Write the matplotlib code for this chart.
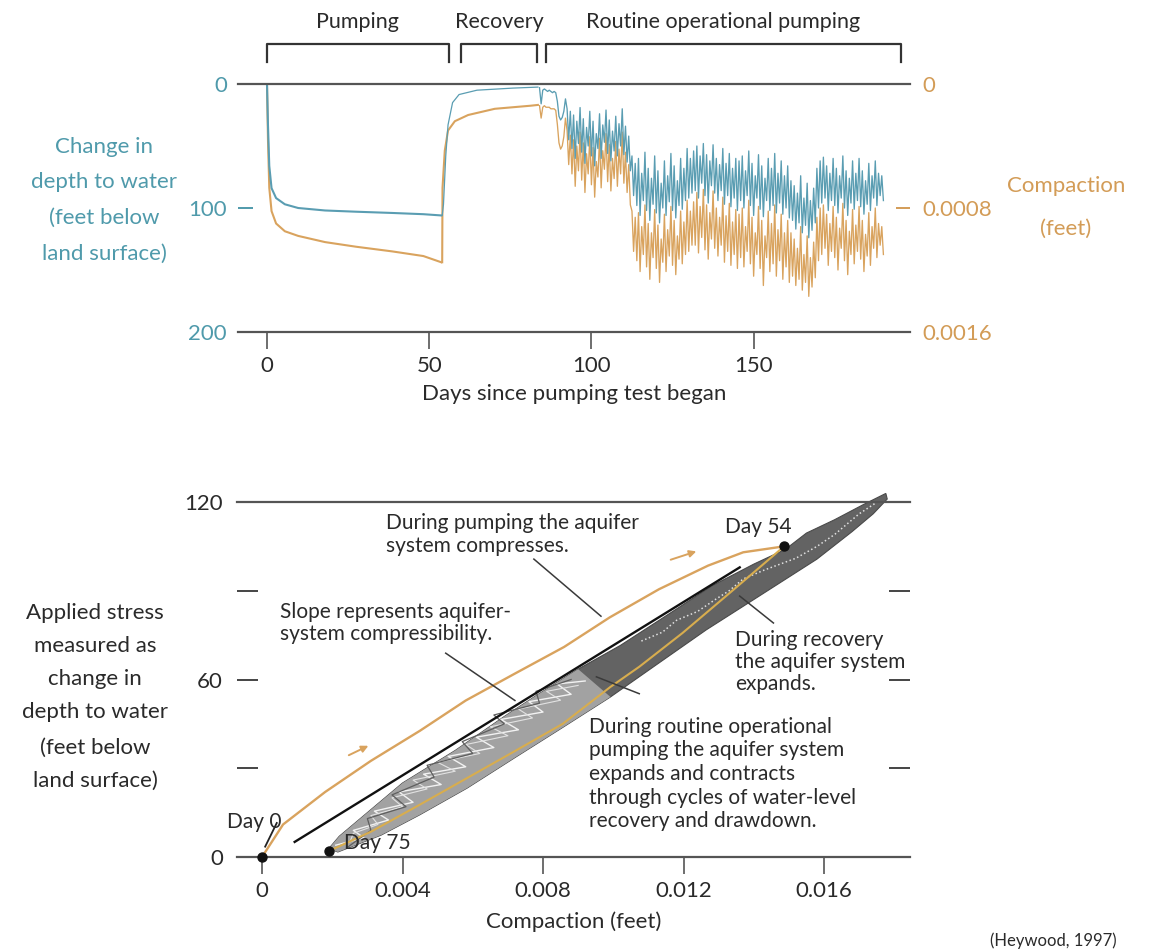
import numpy as np
import matplotlib
matplotlib.use("Agg")
import matplotlib.pyplot as plt
from matplotlib.transforms import blended_transform_factory

plt.rcParams['font.family'] = ['Lato', 'DejaVu Sans']

# ---------------- data: top panel (time series) ----------------
pump_days = [0, 0.3, 0.7, 1.4, 2.8, 5.5, 9.6, 17.9, 27.5, 38.6, 48.2, 53.7]
pump_depth_ft = [0, 33, 66, 84, 92, 97, 100, 102, 103, 104, 105, 106]
pump_comp_e5 = [0, 36, 67, 82, 90, 95, 98, 102, 105, 108, 111, 115]

recov_depth_days = [54.0, 54.4, 55.1, 55.8, 57.2, 59.2, 64.7, 75.8, 83.5]
recov_depth_ft = [106, 97, 58, 33, 15, 8.5, 5, 3.3, 2.5]
recov_comp_days = [54.0, 54.1, 54.8, 55.8, 57.9, 62.0, 70.2, 81.3, 83.5]
recov_comp_e5 = [115, 67, 43, 30, 24, 20, 16, 14, 13.5]

routine_start_day = 84.0
routine_step_day = 0.5
routine_depth_ft = [
    3, 16, 5, 4, 5, 6, 5, 6, 7, 6, 7, 14, 26, 29, 27, 22, 12,
    20, 45, 22, 52, 25, 60, 30, 48, 19, 55, 28, 64, 35, 50, 22, 58, 30, 66, 40, 52,
    24, 60, 33, 47, 21, 56, 29, 62, 38, 54, 26, 58, 32, 50, 20, 57, 34, 63, 42, 70,
    58, 90, 64, 98, 60, 106, 72, 94, 55, 102, 68, 110, 76, 97, 58, 104, 70, 112, 80,
    100, 62, 106, 74, 95, 56, 102, 66, 108, 78, 98, 60, 101, 68, 94, 52, 92, 60, 88,
    54, 86, 50, 92, 58, 80, 48, 90, 57, 96, 62, 82, 49, 88, 60, 94, 65, 86, 52, 97,
    64, 90, 56, 99, 68, 92, 60, 102,
    62, 94, 58, 100, 70, 90, 54, 98, 64, 106, 74, 92, 57, 101, 66, 107, 76, 94, 60, 102,
    68, 98, 56, 104, 72, 96, 62, 105, 74, 100, 66, 108,
    78, 110, 82, 117, 88, 112, 74, 120, 92, 114, 80, 124, 94, 118, 84, 112,
    68, 100, 62, 96, 59, 92, 66, 102, 72, 94, 60, 98, 68, 104, 74, 92, 58, 100, 70, 106,
    76, 96, 62, 101, 72, 94, 60, 99, 70, 105, 78, 97, 64, 102, 74, 92, 62, 98, 72, 90,
    74, 94,
]
routine_comp_e5 = [
    14, 22, 15, 14, 15, 15, 15, 16, 16, 16, 17, 26, 38, 42, 40, 34, 22,
    30, 52, 33, 58, 36, 66, 40, 56, 31, 62, 38, 70, 45, 58, 34, 65, 41, 73, 50, 60,
    35, 67, 43, 55, 32, 63, 39, 69, 48, 61, 37, 66, 42, 58, 31, 64, 44, 70, 52, 78,
    82, 108, 86, 114, 83, 121, 92, 110, 78, 118, 90, 126, 96, 112, 81, 119, 91, 128, 100,
    115, 84, 121, 94, 111, 79, 117, 88, 123, 98, 113, 82, 116, 89, 110, 75, 108, 82, 104,
    76, 104, 70, 109, 79, 99, 68, 107, 78, 113, 83, 100, 69, 106, 80, 111, 86, 104, 73, 115,
    85, 108, 77, 117, 89, 110, 81, 119,
    84, 112, 80, 118, 92, 108, 75, 116, 86, 124, 96, 110, 79, 119, 88, 130, 98, 112, 82, 121,
    90, 116, 78, 124, 94, 114, 84, 126, 96, 118, 88, 128,
    96, 124, 100, 130, 106, 126, 92, 133, 110, 128, 98, 137, 112, 131, 102, 125,
    86, 114, 80, 110, 78, 106, 84, 117, 90, 108, 79, 112, 86, 120, 93, 106, 77, 114, 88, 123,
    95, 110, 81, 116, 91, 108, 79, 113, 88, 121, 97, 111, 83, 117, 92, 106, 80, 112, 90, 104,
    92, 110,
]

phase_names = ["Pumping", "Recovery", "Routine operational pumping"]
phase_start_day = [0, 59.8, 86]
phase_end_day = [56, 83.2, 195.4]

top_xticks = [0, 50, 100, 150]
depth_ticks = [0, 100, 200]
comp_ticks = [0, 0.0008, 0.0016]
comp_tick_labels = ["0", "0.0008", "0.0016"]

# ---------------- data: bottom panel (stress vs compaction) ----------------
pumping_path_comp = [0.0, 0.0006, 0.0018, 0.0031, 0.0045, 0.0058, 0.0072, 0.0086,
                     0.0099, 0.0113, 0.0127, 0.0137, 0.01486]
pumping_path_stress = [0, 11, 22, 32.5, 42.7, 52.9, 62, 71, 81, 90.5, 98.5, 103, 105]

recovery_path_comp = [0.01486, 0.01456, 0.01333, 0.01197, 0.01074, 0.00992, 0.00856,
                      0.0072, 0.00584, 0.00448, 0.00311, 0.0019]
recovery_path_stress = [105, 101.9, 89.4, 75.7, 64.3, 57.5, 45, 35.8, 26.7, 17.6, 8.6, 2]

band_upper_comp = [0.0019, 0.0022, 0.0029, 0.0040, 0.0055, 0.0069, 0.0078, 0.0090,
                   0.0102, 0.0115, 0.0128, 0.0140, 0.0149, 0.0155, 0.0163, 0.0171, 0.01776]
band_upper_stress = [2.8, 7, 14, 25, 36, 47.5, 54.5, 63.5, 71.5, 81.5, 91.6, 99, 104,
                     109.5, 114, 119, 122.9]
band_lower_comp = [0.00216, 0.00339, 0.00448, 0.00584, 0.0072, 0.00856, 0.00992,
                   0.01129, 0.01265, 0.01401, 0.0158, 0.0168, 0.0174, 0.0178, 0.01776]
band_lower_stress = [1.7, 7.4, 14.2, 23.3, 33.6, 43.8, 54.1, 65.5, 76.8, 87.1, 100.7,
                     110, 116, 121, 122.9]

light_region_comp = [0.0019, 0.0022, 0.0029, 0.0040, 0.0055, 0.0069, 0.0078, 0.0090,
                     0.00992, 0.00856, 0.0072, 0.00584, 0.00448, 0.00339, 0.00216]
light_region_stress = [2.8, 7, 14, 25, 36, 47.5, 54.5, 63.5, 54.1, 43.8, 33.6, 23.3,
                       14.2, 7.4, 1.7]

white_trace_comp = [0.0021, 0.0029, 0.0026, 0.0036, 0.0032, 0.0043, 0.0039, 0.0051,
                    0.0046, 0.0058, 0.0053, 0.0066, 0.0061, 0.0073, 0.0068, 0.0080,
                    0.0076, 0.0088, 0.0084, 0.0092]
white_trace_stress = [4, 6.5, 9, 12.5, 15.5, 18.5, 22, 24.5, 28, 30.5, 34, 37, 40.5,
                      43, 46.5, 49, 52.5, 55, 58.5, 59.5]
white_trace2_comp = [0.0025, 0.0026, 0.0033, 0.0031, 0.0040, 0.0037, 0.0047, 0.0043,
                     0.0055, 0.0050, 0.0062, 0.0058, 0.0070, 0.0065, 0.0077, 0.0073,
                     0.0085, 0.0081, 0.0090]
white_trace2_stress = [5, 8, 11, 14, 17, 20, 23, 26, 29, 32, 35, 38, 41, 44, 47, 50,
                       53, 56, 58]
gray_trace_comp = [0.0024, 0.0031, 0.0030, 0.0041, 0.0037, 0.0049, 0.0047, 0.0060,
                   0.0057, 0.0069, 0.0066, 0.0079, 0.0078, 0.0088]
gray_trace_stress = [3, 9, 13, 17, 21, 27, 31, 35, 39, 45, 48, 52, 56, 60]
upper_trace_comp = [0.0108, 0.0114, 0.0118, 0.0124, 0.0129, 0.0133, 0.0137, 0.0143,
                    0.0152, 0.0158, 0.0163, 0.0167, 0.0170, 0.01745]
upper_trace_stress = [73, 76, 80, 83, 87, 90, 94, 97, 101, 105, 109, 113, 116, 119.5]

slope_line_comp = [0.00093, 0.0136]
slope_line_stress = [5.1, 97.9]

direction_arrow_start_comp = [0.0024, 0.01156]
direction_arrow_start_stress = [34, 100.2]
direction_arrow_end_comp = [0.0031, 0.01244]
direction_arrow_end_stress = [38, 103.6]

day_marker_comp = [0.0, 0.01486, 0.0019]
day_marker_stress = [0, 105, 2]

leader_comp = [[0.00774, 0.00965], [0.00523, 0.0072], [0.01456, 0.0136], [0.01074, 0.00952]]
leader_stress = [[100.7, 81.4], [68.9, 52.9], [79.1, 88.2], [55.2, 60.9]]
day0_leader_comp = [0.00042, 0.00009]
day0_leader_stress = [11.5, 3.5]

bottom_xticks = [0, 0.004, 0.008, 0.012, 0.016]
bottom_xtick_labels = ["0", "0.004", "0.008", "0.012", "0.016"]
stress_ticks = [0, 30, 60, 90, 120]
stress_tick_labels = ["0", "", "60", "", "120"]

# ---------------- style ----------------
W, H = 1153, 949
TEAL = '#4f9aab'
TAN = '#d39c57'
BLUE_LINE = '#5a9db2'
ORANGE_LINE = '#d9a35e'
INK = '#2a2a2a'
AXIS = '#555555'
FS = 16

fig = plt.figure(figsize=(W / 100, H / 100), dpi=100, facecolor='white')


def frac(px, py):
    return px / W, 1 - py / H


def ftext(px, py, s, **kw):
    x, y = frac(px, py)
    kw.setdefault('color', INK)
    kw.setdefault('fontsize', 15)
    kw.setdefault('va', 'center')
    fig.text(x, y, s, **kw)


# ---------------- top panel ----------------
ax1 = fig.add_axes([238 / W, 1 - 332 / H, 672 / W, 248 / H])
ax2 = ax1.twinx()
ax1.set_zorder(ax2.get_zorder() + 1)
ax1.patch.set_visible(False)

routine_days = routine_start_day + routine_step_day * np.arange(len(routine_depth_ft))
routine_days_c = routine_start_day + routine_step_day * np.arange(len(routine_comp_e5))

ax1.plot(pump_days, pump_depth_ft, color=BLUE_LINE, lw=1.5)
ax1.plot(recov_depth_days, recov_depth_ft, color=BLUE_LINE, lw=0.9)
ax1.plot(routine_days, routine_depth_ft, color=BLUE_LINE, lw=0.95)

ax2.plot(pump_days, np.array(pump_comp_e5) * 1e-5, color=ORANGE_LINE, lw=1.5)
ax2.plot(recov_comp_days, np.array(recov_comp_e5) * 1e-5, color=ORANGE_LINE, lw=1.5)
ax2.plot(routine_days_c, np.array(routine_comp_e5) * 1e-5, color=ORANGE_LINE, lw=0.95)

ax1.set_xlim(-8.94, 198.2)
ax1.set_ylim(200, 0)
ax2.set_ylim(0.0016, 0)

for sp in ['left', 'right']:
    ax1.spines[sp].set_visible(False)
for sp in ['top', 'bottom']:
    ax1.spines[sp].set_color(AXIS)
    ax1.spines[sp].set_linewidth(1.6)
for sp in ax2.spines.values():
    sp.set_visible(False)

ax1.set_xticks(top_xticks)
ax1.set_xticklabels([str(t) for t in top_xticks])
ax1.tick_params(axis='x', direction='out', length=12, width=1.2, color=AXIS,
                labelsize=FS, labelcolor=INK, pad=5)
ax1.set_yticks(depth_ticks)
ax1.set_yticklabels([str(t) for t in depth_ticks])
ax1.tick_params(axis='y', direction='in', length=11, width=1.4, color=TEAL,
                labelsize=FS, labelcolor=TEAL, pad=8)
ax2.set_yticks(comp_ticks)
ax2.set_yticklabels(comp_tick_labels)
ax2.tick_params(axis='y', direction='in', length=10, width=1.4, color=TAN,
                labelsize=FS, labelcolor=TAN, pad=9)

# phase brackets
btr = blended_transform_factory(ax1.transData, ax1.transAxes)
for name, a, b in zip(phase_names, phase_start_day, phase_end_day):
    ax1.plot([a, a, b, b], [1.088, 1.162, 1.162, 1.088], color='#333333', lw=1.6,
             transform=btr, clip_on=False)
    ax1.text((a + b) / 2, 1.25, name, transform=btr, ha='center', va='center',
             fontsize=15.5, color=INK)

ax1.set_xlabel("Days since pumping test began", fontsize=FS, color=INK, labelpad=6)

for i, s in enumerate(["Change in", "depth to water", "(feet below", "land surface)"]):
    ftext(104, 147 + 35.5 * i, s, ha='center', color=TEAL, fontsize=FS)
ftext(1066, 186, "Compaction", ha='center', color=TAN, fontsize=FS)
ftext(1066, 229, "(feet)", ha='center', color=TAN, fontsize=FS)

# ---------------- bottom panel ----------------
ax3 = fig.add_axes([237 / W, 1 - 857 / H, 673 / W, 355 / H])
ax3.set_xlim(-0.000712, 0.018448)
ax3.set_ylim(0, 120)

band_x = list(band_upper_comp) + list(band_lower_comp[::-1])
band_y = list(band_upper_stress) + list(band_lower_stress[::-1])
ax3.fill(band_x, band_y, color='#636363', lw=0.8, ec='#4a4a4a', clip_on=False, zorder=2)
ax3.fill(light_region_comp, light_region_stress, color='#a2a2a2', lw=0, zorder=2.5)
ax3.plot(white_trace_comp, white_trace_stress, color='#f2f2f2', lw=1.0, zorder=3)
ax3.plot(white_trace2_comp, white_trace2_stress, color='#e2e2e2', lw=0.8, zorder=3)
ax3.plot(gray_trace_comp, gray_trace_stress, color='#5e5e5e', lw=0.9, zorder=3)
ax3.plot(upper_trace_comp, upper_trace_stress, color='#e0e0e0', lw=1.1, ls=':', zorder=3,
         clip_on=False)

ax3.plot(slope_line_comp, slope_line_stress, color='#111111', lw=1.7, zorder=4)
ax3.plot(recovery_path_comp, recovery_path_stress, color='#d8ad4e', lw=1.5, zorder=4)
ax3.plot(pumping_path_comp, pumping_path_stress, color=ORANGE_LINE, lw=1.7, zorder=4)

for x0, y0, x1, y1 in zip(direction_arrow_start_comp, direction_arrow_start_stress,
                          direction_arrow_end_comp, direction_arrow_end_stress):
    ax3.annotate("", xy=(x1, y1), xytext=(x0, y0),
                 arrowprops=dict(arrowstyle='-|>', color=ORANGE_LINE, lw=1.4,
                                 mutation_scale=10), zorder=5)

for lx, ly in zip(leader_comp, leader_stress):
    ax3.plot(lx, ly, color='#3a3a3a', lw=1.1, zorder=5)
ax3.plot(day0_leader_comp, day0_leader_stress, color='#222222', lw=1.3, zorder=5)

ax3.scatter(day_marker_comp, day_marker_stress, s=42, color='#111111', zorder=6,
            clip_on=False)

for sp in ['left', 'right']:
    ax3.spines[sp].set_visible(False)
for sp in ['top', 'bottom']:
    ax3.spines[sp].set_color(AXIS)
    ax3.spines[sp].set_linewidth(1.6)

ax3.set_xticks(bottom_xticks)
ax3.set_xticklabels(bottom_xtick_labels)
ax3.tick_params(axis='x', direction='out', length=12, width=1.2, color=AXIS,
                labelsize=FS, labelcolor=INK, pad=5)
ax3.set_yticks(stress_ticks)
ax3.set_yticklabels(stress_tick_labels)
ax3.tick_params(axis='y', direction='in', length=15, width=1.4, color='#444444',
                labelsize=FS, labelcolor=INK, pad=10, right=True)
ax3.set_xlabel("Compaction (feet)", fontsize=FS, color=INK, labelpad=8)

# annotations
ftext(386, 523, "During pumping the aquifer")
ftext(386, 546, "system compresses.")
ftext(280, 612, "Slope represents aquifer-")
ftext(280, 634, "system compressibility.")
ftext(735, 640, "During recovery")
ftext(735, 662, "the aquifer system")
ftext(735, 684, "expands.")
for i, s in enumerate(["During routine operational", "pumping the aquifer system",
                       "expands and contracts", "through cycles of water-level",
                       "recovery and drawdown."]):
    ftext(589, 727 + 23.5 * i, s)
ftext(758, 527, "Day 54", ha='center')
ftext(254, 822, "Day 0", ha='center')
ftext(344, 843, "Day 75", ha='left')

for i, s in enumerate(["Applied stress", "measured as", "change in", "depth to water",
                       "(feet below", "land surface)"]):
    ftext(95, 613 + 33 * i + (3 if i >= 4 else 0), s, ha='center', fontsize=FS)

ftext(1053, 941, "(Heywood, 1997)", ha='center', fontsize=12)

fig.savefig("out.png", dpi=100, facecolor='white')
